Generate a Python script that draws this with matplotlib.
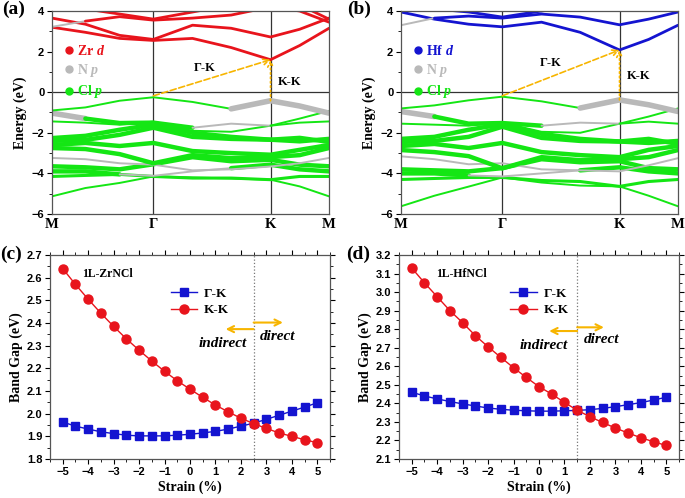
import matplotlib
matplotlib.use("Agg")
import matplotlib.pyplot as plt
import numpy as np
from matplotlib.lines import Line2D
from matplotlib.ticker import MultipleLocator, FormatStrFormatter

plt.rcParams['font.family'] = ['Liberation Serif', 'DejaVu Serif']
plt.rcParams['mathtext.fontset'] = 'custom'
plt.rcParams['mathtext.rm'] = 'Liberation Serif:bold'
plt.rcParams['mathtext.it'] = 'Liberation Serif:bold:italic'
plt.rcParams['mathtext.bf'] = 'Liberation Serif:bold'

# ---------------- data ----------------
# high-symmetry path M - Gamma - K - M (sample points along path)
K_PATH = [0.0, 0.19, 0.385, 0.577, 0.80, 1.02, 1.244, 1.41, 1.577]
K_TICKS = [0.0, 0.577, 1.244, 1.577]
K_LABELS = ['M', 'Γ', 'K', 'M']

# ZrNCl bands (eV) at K_PATH points
zr_c1 = [3.20, 2.95, 2.65, 2.55, 2.65, 2.20, 1.60, 2.30, 3.15]
zr_c2 = [3.65, 3.35, 2.80, 2.60, 3.30, 3.15, 2.72, 3.10, 3.65]
zr_c3 = [3.22, 3.50, 3.72, 3.55, 3.65, 3.80, 4.20, 4.00, 3.45]
zr_c4 = [4.30, 4.10, 3.85, 3.60, 3.95, 4.30, 4.50, 4.30, 3.60]
zr_v1 = [-0.90, -0.75, -0.42, -0.25, -0.48, -0.82, -0.42, -0.68, -1.03]
zr_v2 = [-1.03, -1.30, -1.52, -1.50, -1.75, -1.55, -1.65, -1.50, -1.44]
zr_v3 = [-1.44, -1.50, -1.60, -1.45, -1.90, -1.95, -1.65, -1.30, -0.92]
zr_v4 = [-2.26, -2.15, -1.85, -1.60, -2.00, -2.20, -2.34, -2.42, -2.30]
zr_v5 = [-2.40, -2.35, -2.10, -1.75, -2.20, -2.30, -2.34, -2.25, -2.45]
zr_v6 = [-2.60, -2.50, -2.65, -2.50, -2.90, -3.00, -3.08, -2.84, -2.60]
zr_v7 = [-2.75, -2.80, -3.05, -3.50, -3.10, -3.25, -3.20, -3.10, -2.75]
zr_v8 = [-3.24, -3.30, -3.50, -3.57, -3.85, -3.80, -3.66, -3.50, -3.24]
zr_v9 = [-3.65, -3.70, -3.80, -3.55, -3.20, -3.40, -3.33, -3.57, -3.65]
zr_v10 = [-3.90, -3.90, -4.05, -4.12, -3.90, -3.74, -3.57, -3.80, -3.90]
zr_v11 = [-4.15, -4.10, -4.05, -4.15, -4.23, -4.23, -4.31, -4.15, -4.15]
zr_v12 = [-5.13, -4.72, -4.47, -4.15, -4.20, -4.25, -4.31, -4.64, -5.13]

# HfNCl bands (eV)
hf_c1 = [3.95, 3.60, 3.35, 3.22, 3.45, 2.95, 2.08, 2.60, 3.30]
hf_c2 = [3.30, 3.65, 3.75, 3.65, 3.85, 3.70, 3.32, 3.60, 3.95]
hf_c3 = [4.30, 4.10, 3.95, 3.70, 4.00, 4.30, 4.40, 4.20, 4.00]
hf_v1 = [-0.80, -0.65, -0.40, -0.22, -0.45, -0.78, -0.38, -0.62, -0.95]
hf_v2 = [-0.95, -1.20, -1.55, -1.52, -1.65, -1.50, -1.55, -1.45, -1.55]
hf_v3 = [-1.55, -1.60, -1.65, -1.50, -1.95, -2.00, -1.55, -1.20, -0.80]
hf_v4 = [-2.30, -2.20, -1.85, -1.58, -2.05, -2.30, -2.43, -2.50, -2.40]
hf_v5 = [-2.45, -2.40, -2.20, -1.70, -2.25, -2.40, -2.43, -2.30, -2.55]
hf_v6 = [-2.65, -2.55, -2.75, -2.50, -2.95, -3.10, -3.20, -2.84, -2.65]
hf_v7 = [-2.85, -2.95, -3.15, -3.75, -3.20, -3.35, -3.30, -3.20, -2.85]
hf_v8 = [-3.16, -3.30, -3.55, -3.50, -3.80, -3.85, -3.90, -3.60, -3.25]
hf_v9 = [-3.80, -3.85, -3.90, -3.74, -3.30, -3.45, -3.40, -3.74, -3.80]
hf_v10 = [-4.00, -4.00, -4.10, -4.15, -4.00, -3.85, -3.70, -3.90, -4.00]
hf_v11 = [-4.30, -4.25, -4.20, -4.20, -4.35, -4.40, -4.64, -4.40, -4.30]
hf_v12 = [-5.62, -5.10, -4.65, -4.20, -4.45, -4.60, -4.64, -5.10, -5.62]

# band-gap vs strain
strain = [-5, -4.5, -4, -3.5, -3, -2.5, -2, -1.5, -1, -0.5, 0, 0.5, 1, 1.5, 2, 2.5, 3, 3.5, 4, 4.5, 5]
zr_gk = [1.963, 1.945, 1.932, 1.920, 1.912, 1.905, 1.902, 1.902, 1.902, 1.905, 1.909,
         1.915, 1.922, 1.932, 1.945, 1.958, 1.975, 1.993, 2.011, 2.029, 2.048]
zr_kk = [2.640, 2.570, 2.505, 2.443, 2.385, 2.330, 2.280, 2.232, 2.187, 2.145, 2.108,
         2.072, 2.038, 2.008, 1.980, 1.956, 1.935, 1.915, 1.900, 1.885, 1.872]
hf_gk = [2.460, 2.440, 2.424, 2.410, 2.397, 2.386, 2.375, 2.368, 2.363, 2.360, 2.358,
         2.358, 2.360, 2.362, 2.366, 2.373, 2.382, 2.393, 2.404, 2.418, 2.433]
hf_kk = [3.130, 3.050, 2.975, 2.900, 2.835, 2.765, 2.705, 2.648, 2.592, 2.540, 2.490,
         2.450, 2.405, 2.363, 2.328, 2.297, 2.267, 2.240, 2.215, 2.193, 2.173]
zr_transition = 2.5
hf_transition = 1.5

# ---------------- styles ----------------
RED = '#e8141c'
BLUE = '#1414d0'
GREEN = '#14e614'
GRAY = '#b9b9b9'
ORANGE = '#f7b500'
DARK = '#333333'

SANS = ['Liberation Sans', 'DejaVu Sans']

def seg_style(kind, metal_color):
    return {
        'd': dict(color=metal_color, lw=2.0),
        'N': dict(color=GRAY, lw=4.0),
        'n': dict(color=GRAY, lw=1.4),
        'G': dict(color=GREEN, lw=3.2),
        'g': dict(color=GREEN, lw=1.4),
        'm': dict(color=GREEN, lw=2.2),
    }[kind]

# segments (start index, end index, character)
SEG_C = [(0, 8, 'd')]
SEG_C_NSTART = [(0, 1, 'n'), (1, 8, 'd')]
SEG_V1 = [(0, 5, 'g'), (5, 8, 'N')]
SEG_V2 = [(0, 1, 'N'), (1, 4, 'G'), (4, 6, 'n'), (6, 8, 'g')]
SEG_THIN = [(0, 8, 'g')]
SEG_MED = [(0, 8, 'm')]
SEG_THICK = [(0, 8, 'G')]
SEG_GRAY = [(0, 8, 'n')]
SEG_V10 = [(0, 2, 'G'), (2, 5, 'n'), (5, 8, 'G')]

def draw_bands(ax, bands, metal_color):
    for E, segs in bands:
        for i0, i1, kind in segs:
            ax.plot(K_PATH[i0:i1 + 1], E[i0:i1 + 1], solid_capstyle='round',
                    solid_joinstyle='round', zorder=2, **seg_style(kind, metal_color))

def band_axes(ax, bands, metal_color, metal_label, vbm, cbm, gk_pos, kk_pos):
    draw_bands(ax, bands, metal_color)
    ax.set_xlim(K_TICKS[0], K_TICKS[-1])
    ax.set_ylim(-6, 4)
    for k in K_TICKS[1:3]:
        ax.axvline(k, color=DARK, lw=0.9, zorder=1)
    ax.axhline(0, color=DARK, lw=0.9, zorder=1)
    ax.set_xticks(K_TICKS)
    ax.set_xticklabels(K_LABELS, fontsize=10.5, fontweight='bold')
    ax.tick_params(axis='x', length=0, pad=3)
    ax.set_yticks([-6, -4, -2, 0, 2, 4])
    ax.yaxis.set_minor_locator(MultipleLocator(1))
    ax.tick_params(axis='y', which='major', length=3.5, width=0.8, direction='out', pad=2)
    ax.tick_params(axis='y', which='minor', length=2, width=0.6, direction='out')
    for lab in ax.get_yticklabels():
        lab.set_family(SANS); lab.set_fontweight('bold'); lab.set_fontsize(8)
    ax.set_ylabel('Energy (eV)', fontsize=10, fontweight='bold', labelpad=3)
    for s in ax.spines.values():
        s.set_color('#555555'); s.set_linewidth(0.9)
    # gap arrows
    kG, kK = K_TICKS[1], K_TICKS[2]
    ax.annotate('', xy=(kK, cbm), xytext=(kG, -0.18),
                arrowprops=dict(arrowstyle='->', color=ORANGE, lw=1.2, ls='--',
                                shrinkA=0, shrinkB=0, mutation_scale=10), zorder=5)
    ax.annotate('', xy=(kK, cbm), xytext=(kK, vbm),
                arrowprops=dict(arrowstyle='->', color=ORANGE, lw=1.2, ls=':',
                                shrinkA=0, shrinkB=0, mutation_scale=10), zorder=5)
    ax.text(gk_pos[0], gk_pos[1], 'Γ-K', fontsize=9, fontweight='bold', ha='center', va='center')
    ax.text(kk_pos[0], kk_pos[1], 'K-K', fontsize=9, fontweight='bold', ha='center', va='center')
    # legend
    handles = [Line2D([], [], ls='none', marker='o', ms=5, color=c) for c in (metal_color, GRAY, GREEN)]
    labels = [metal_label, r'$\mathrm{N}\ p$', r'$\mathrm{Cl}\ p$']
    leg = ax.legend(handles, labels, loc='upper left', bbox_to_anchor=(0.0, 0.885),
                    frameon=False, fontsize=10, handletextpad=0.1, handlelength=1.0,
                    labelspacing=0.3, borderaxespad=0.3)
    for t, c in zip(leg.get_texts(), (metal_color, GRAY, GREEN)):
        t.set_color(c)

fig = plt.figure(figsize=(6.85, 4.98), dpi=100)
W, H = 685.0, 498.0
def add_ax(l, t, r, b):
    return fig.add_axes([l / W, 1 - b / H, (r - l) / W, (b - t) / H])

axa = add_ax(52, 11, 329, 214)
axb = add_ax(401, 11, 678, 214)
axc = add_ax(50, 255, 330, 459)
axd = add_ax(399, 255, 679, 459)

zr_bands = [
    (zr_c1, SEG_C), (zr_c2, SEG_C), (zr_c3, SEG_C_NSTART), (zr_c4, SEG_C),
    (zr_v12, SEG_THIN), (zr_v11, SEG_MED), (zr_v10, SEG_V10), (zr_v9, SEG_THICK),
    (zr_v8, SEG_GRAY), (zr_v7, SEG_THICK), (zr_v6, SEG_THICK), (zr_v5, SEG_THICK),
    (zr_v4, SEG_THICK), (zr_v3, SEG_THIN), (zr_v2, SEG_V2), (zr_v1, SEG_V1),
]
hf_bands = [
    (hf_c1, SEG_C), (hf_c2, SEG_C_NSTART), (hf_c3, SEG_C),
    (hf_v12, SEG_THIN), (hf_v11, SEG_MED), (hf_v10, SEG_V10), (hf_v9, SEG_THICK),
    (hf_v8, SEG_GRAY), (hf_v7, SEG_THICK), (hf_v6, SEG_THICK), (hf_v5, SEG_THICK),
    (hf_v4, SEG_THICK), (hf_v3, SEG_THIN), (hf_v2, SEG_V2), (hf_v1, SEG_V1),
]

band_axes(axa, zr_bands, RED, r'$\mathrm{Zr}\ d$', zr_v1[6], zr_c1[6], (0.87, 1.2), (1.35, 0.5))
band_axes(axb, hf_bands, BLUE, r'$\mathrm{Hf}\ d$', hf_v1[6], hf_c1[6], (0.85, 1.45), (1.35, 0.8))

def gap_axes(ax, gk, kk, trans, ylim, name, name_pos, arrow_y, ind_pos, dir_pos, arrow_len, leg_x):
    ax.plot(strain, gk, color=BLUE, marker='s', ms=5.5, lw=1.0, zorder=3, label='Γ-K')
    ax.plot(strain, kk, color=RED, marker='o', ms=6.5, lw=1.0, zorder=3, label='K-K')
    ax.axvline(trans, color='#777777', lw=0.9, ls=':', zorder=1)
    ax.set_xlim(-5.5, 5.5)
    ax.set_ylim(*ylim)
    ax.xaxis.set_major_locator(MultipleLocator(1))
    ax.xaxis.set_minor_locator(MultipleLocator(0.5))
    ax.yaxis.set_major_locator(MultipleLocator(0.1))
    ax.yaxis.set_minor_locator(MultipleLocator(0.05))
    ax.yaxis.set_major_formatter(FormatStrFormatter('%.1f'))
    ax.tick_params(which='major', length=3.5, width=0.8, direction='out', pad=2)
    ax.tick_params(which='minor', length=2, width=0.6, direction='out')
    ax.tick_params(which='both', top=True, right=True)
    for lab in ax.get_xticklabels() + ax.get_yticklabels():
        lab.set_family(SANS); lab.set_fontweight('bold'); lab.set_fontsize(8)
    ax.set_xlabel('Strain (%)', fontsize=10, fontweight='bold', labelpad=3)
    ax.set_ylabel('Band Gap (eV)', fontsize=10, fontweight='bold', labelpad=3)
    for s in ax.spines.values():
        s.set_color('#555555'); s.set_linewidth(0.9)
    ax.text(name_pos[0], name_pos[1], name, fontsize=8.5, fontweight='bold', ha='left', va='center')
    ax.annotate('', xy=(trans - arrow_len[0], arrow_y[0]), xytext=(trans, arrow_y[0]),
                arrowprops=dict(arrowstyle='->', color=ORANGE, lw=1.5, shrinkA=0, shrinkB=0,
                                mutation_scale=11))
    ax.annotate('', xy=(trans + arrow_len[1], arrow_y[1]), xytext=(trans, arrow_y[1]),
                arrowprops=dict(arrowstyle='->', color=ORANGE, lw=1.5, shrinkA=0, shrinkB=0,
                                mutation_scale=11))
    ax.text(ind_pos[0], ind_pos[1], 'indirect', fontsize=11, fontweight='bold', style='italic',
            ha='center', va='center')
    ax.text(dir_pos[0], dir_pos[1], 'direct', fontsize=11, fontweight='bold', style='italic',
            ha='center', va='center')
    ax.legend(loc='upper left', bbox_to_anchor=(leg_x, 0.9), frameon=False,
              handlelength=2.0, handletextpad=0.5, labelspacing=0.35,
              prop=dict(weight='bold', size=9.5))

gap_axes(axc, zr_gk, zr_kk, zr_transition, (1.8, 2.7), '1L-ZrNCl', (-4.25, 2.617),
         (2.373, 2.402), (1.3, 2.31), (3.45, 2.34), (1.1, 1.15), 0.39)
gap_axes(axd, hf_gk, hf_kk, hf_transition, (2.1, 3.2), '1L-HfNCl', (-4.05, 3.096),
         (2.79, 2.81), (0.2, 2.71), (2.45, 2.745), (1.1, 1.05), 0.355)

for lab, x, y in (('(a)', 2, 1), ('(b)', 347, 1), ('(c)', 0, 246), ('(d)', 346, 246)):
    fig.text(x / W, 1 - y / H, lab, fontsize=14, fontweight='bold', ha='left', va='top')

fig.savefig('out.png', dpi=100)
